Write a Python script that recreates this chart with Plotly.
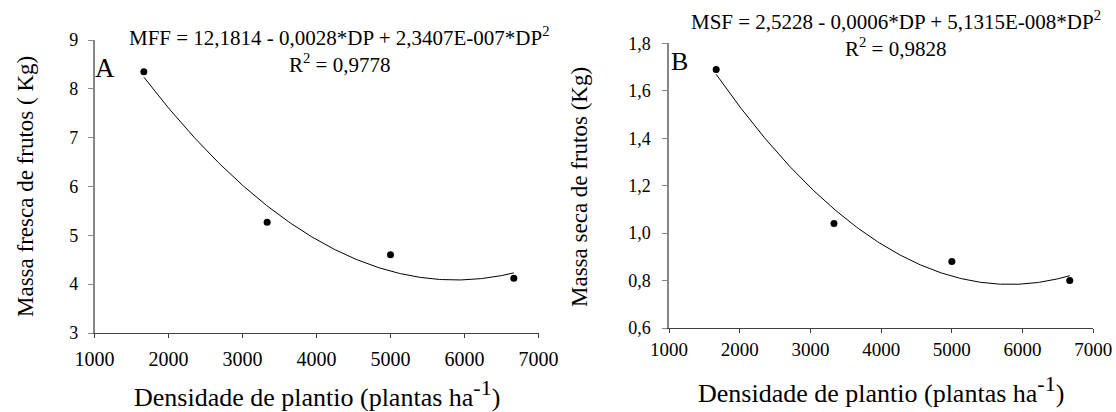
import numpy as np
import plotly.graph_objects as go

# ---- data ----
densidade = [1667, 3333, 5000, 6667]
massa_fresca = [8.35, 5.27, 4.60, 4.12]
massa_seca = [1.69, 1.04, 0.88, 0.80]

x_ticks = [1000, 2000, 3000, 4000, 5000, 6000, 7000]
x_ticktext = ["1000", "2000", "3000", "4000", "5000", "6000", "7000"]
ya_ticks = [3, 4, 5, 6, 7, 8, 9]
ya_ticktext = ["3", "4", "5", "6", "7", "8", "9"]
yb_ticks = [0.6, 0.8, 1.0, 1.2, 1.4, 1.6, 1.8]
yb_ticktext = ["0,6", "0,8", "1,0", "1,2", "1,4", "1,6", "1,8"]

eq_a = "MFF = 12,1814 - 0,0028*DP + 2,3407E-007*DP<sup>2</sup>"
r2_a = "R<sup>2</sup> = 0,9778"
eq_b = "MSF = 2,5228 - 0,0006*DP + 5,1315E-008*DP<sup>2</sup>"
r2_b = "R<sup>2</sup> = 0,9828"
ytitle_a = "Massa fresca de frutos ( Kg)"
ytitle_b = "Massa seca de frutos (Kg)"
xtitle = "Densidade de plantio (plantas ha<sup><span style='font-size:22px'>-1</span></sup>)"

W, H = 1116, 412
FONT = "'Liberation Serif', 'Times New Roman', 'DejaVu Serif', serif"

def px(x):
    return x / W

def py(y):
    return 1 - y / H

# quadratic trendlines fitted to the points (as in the original regression)
xs = np.linspace(min(densidade), max(densidade), 200)
ca = np.polyfit(densidade, massa_fresca, 2)
cb = np.polyfit(densidade, massa_seca, 2)

fig = go.Figure()
fig.add_trace(go.Scatter(x=xs, y=np.polyval(ca, xs), mode="lines",
                         line=dict(color="black", width=1), xaxis="x", yaxis="y",
                         showlegend=False, hoverinfo="skip"))
fig.add_trace(go.Scatter(x=densidade, y=massa_fresca, mode="markers",
                         marker=dict(color="black", size=7), xaxis="x", yaxis="y",
                         showlegend=False))
fig.add_trace(go.Scatter(x=xs, y=np.polyval(cb, xs), mode="lines",
                         line=dict(color="black", width=1), xaxis="x2", yaxis="y2",
                         showlegend=False, hoverinfo="skip"))
fig.add_trace(go.Scatter(x=densidade, y=massa_seca, mode="markers",
                         marker=dict(color="black", size=7), xaxis="x2", yaxis="y2",
                         showlegend=False))

xax = dict(range=[1000, 7000], tickvals=x_ticks, ticktext=x_ticktext,
           showgrid=False, zeroline=False, showline=True, linecolor="#404040",
           linewidth=1, ticks="outside", ticklen=4, tickcolor="#404040",
           automargin=False)
yax = dict(showgrid=False, zeroline=False, showline=True, linecolor="#868686",
           linewidth=1.5, ticks="outside", ticklen=5, tickcolor="#868686",
           automargin=False,
           tickfont=dict(family=FONT, size=18, color="black"))

fig.update_layout(
    template="none",
    width=W, height=H,
    margin=dict(l=0, r=0, t=0, b=0, autoexpand=False),
    paper_bgcolor="white", plot_bgcolor="white",
    font=dict(family=FONT, color="black"),
    showlegend=False,
    xaxis=dict(xax, domain=[px(94.5), px(538.5)], anchor="y", ticklabelstandoff=4,
               tickfont=dict(family=FONT, size=20, color="black")),
    yaxis=dict(yax, domain=[py(333), py(40)], anchor="x", range=[3, 9],
               tickvals=ya_ticks, ticktext=ya_ticktext, ticklabelstandoff=6),
    xaxis2=dict(xax, domain=[px(669), px(1093.3)], anchor="y2", ticklabelstandoff=0,
                tickfont=dict(family=FONT, size=19, color="black")),
    yaxis2=dict(yax, domain=[py(328), py(43.3)], anchor="x2", range=[0.6, 1.8],
                tickvals=yb_ticks, ticktext=yb_ticktext, ticklabelstandoff=8),
)

def ann(text, x, y, size, angle=0):
    fig.add_annotation(text=text, x=px(x), y=py(y), xref="paper", yref="paper",
                       xanchor="center", yanchor="middle", showarrow=False,
                       textangle=angle, font=dict(family=FONT, size=size, color="black"))

ann(eq_a, 339, 37, 21)
ann(r2_a, 339, 63, 21)
ann("A", 105, 68, 27)
ann(ytitle_a, 25, 187, 23, -90)
ann(xtitle, 317, 393, 26)

ann(eq_b, 896, 21, 21)
ann(r2_b, 895, 47, 21)
ann("B", 679, 62, 26)
ann(ytitle_b, 579, 187, 23, -90)
ann(xtitle, 881, 389, 26)

fig.write_html(
    "out.html",
    config={"displayModeBar": False},
    post_script="document.body.style.margin='0px';document.body.style.overflow='hidden';",
)
